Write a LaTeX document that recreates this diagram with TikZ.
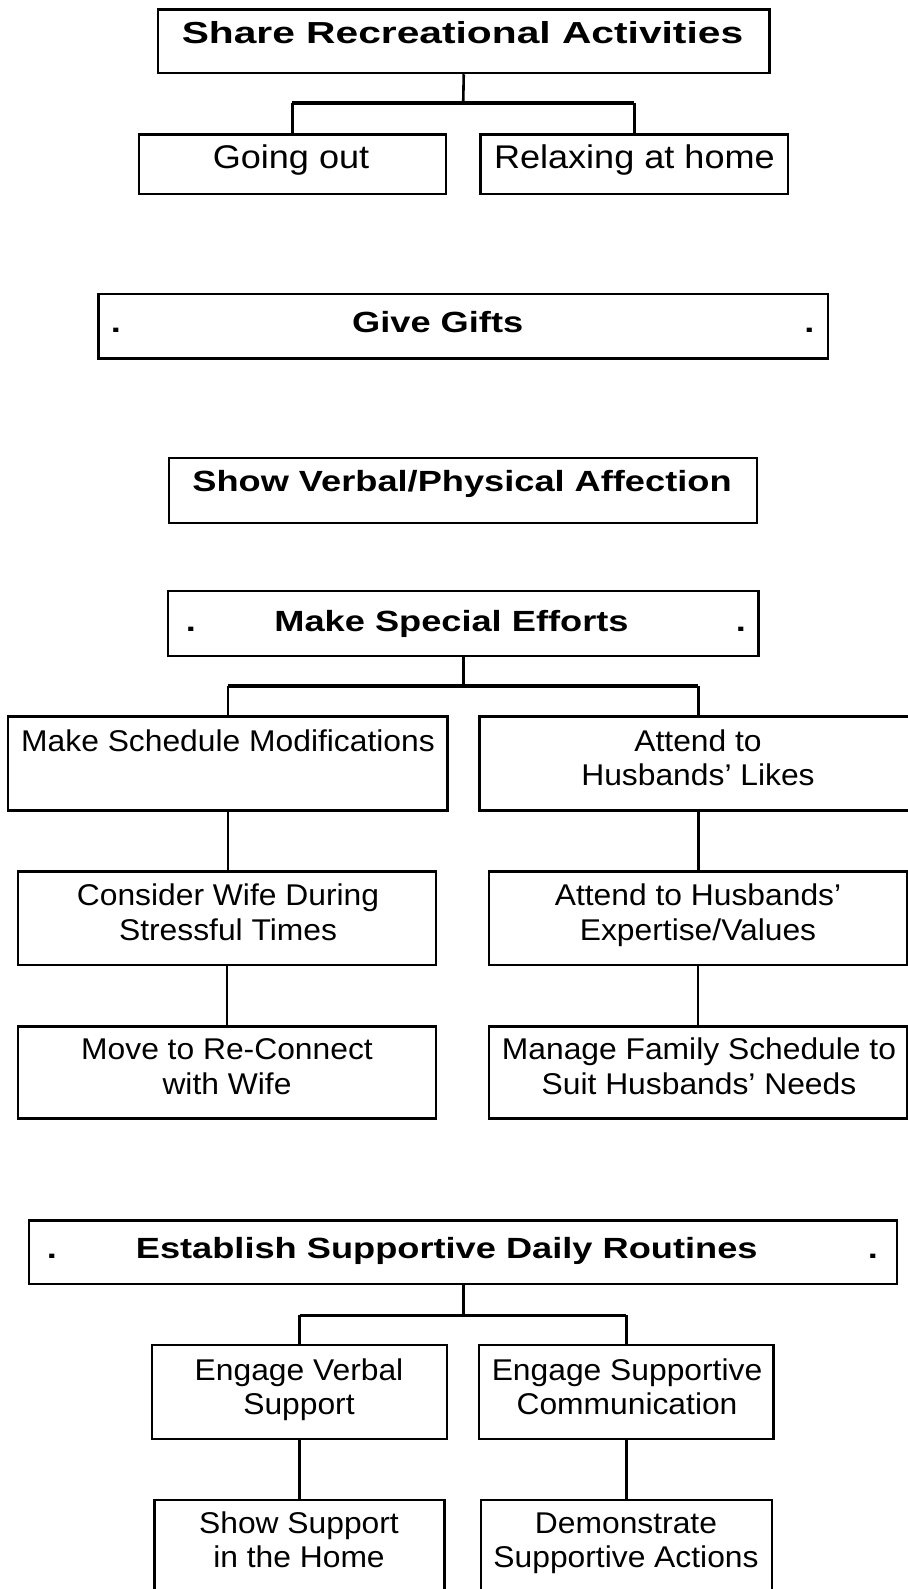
\documentclass[tikz,border=0pt]{standalone}
\usepackage{fontspec}
\setmainfont{Liberation Sans}[FakeStretch=1.1]
\newfontfamily\lowf{Liberation Sans}[FakeStretch=1.06]
\newfontfamily\hdf{Liberation Sans}[FakeStretch=1.24]
\newfontfamily\shf{Liberation Sans}[FakeStretch=1.34]
\usetikzlibrary{fit}
\newcommand\twoline[2]{\begin{tabular}[t]{@{}c@{}}#1\\#2\end{tabular}}
\begin{document}
\begin{tikzpicture}[x=0.5pt,y=-0.5pt,
  box/.style={draw=black, line width=1.25pt, inner sep=0pt},
  head/.style={font=\hdf\bfseries\fontsize{14.6}{17}\selectfont, anchor=base, inner sep=0pt},
  sharehead/.style={font=\shf\bfseries\fontsize{15.2}{17}\selectfont, anchor=base, inner sep=0pt},
  sub/.style={font=\fontsize{16.4}{20}\selectfont, anchor=base, inner sep=0pt},
  lbl/.style={font=\lowf\fontsize{15}{17.2}\selectfont, anchor=base, inner sep=0pt},
  link/.style={line width=1.3pt},
  bar/.style={line width=1.8pt}]
\useasboundingbox (0,0) rectangle (908,1589);

% ---------- Share Recreational Activities ----------
\node[box, fit={(158,9.5) (769.5,73)}] (share) {};
\node[sharehead] (shareT) at (462.5,44) {Share Recreational Activities};
\node[box, fit={(139,134.3) (445.9,194)}] (going) {};
\node[sub] (goingT) at (291,168.5) {Going out};
\node[box, fit={(480.6,134.3) (788,194)}] (relax) {};
\node[sub] (relaxT) at (634.4,168.5) {Relaxing at home};
\coordinate (j1) at (463.2,103.3);
\draw[link] (share.south) -- (j1);
\draw[bar] (going.north |- j1) -- (relax.north |- j1);
\draw[link] (going.north |- j1) -- (going.north);
\draw[link] (relax.north |- j1) -- (relax.north);

% ---------- Give Gifts ----------
\node[box, fit={(98.4,294) (828,358.7)}] (gifts) {};
\node[head] (giftsT) at (437.7,332) {Give Gifts};
\node[head] (giftsL) at (115.8,332) {.};
\node[head] (giftsR) at (809.5,332) {.};

% ---------- Show Verbal/Physical Affection ----------
\node[box, fit={(169.2,458) (757,523)}] (affect) {};
\node[head] (affectT) at (462,491.7) {Show Verbal/Physical Affection};

% ---------- Make Special Efforts ----------
\node[box, fit={(168,591) (758.5,656)}] (special) {};
\node[head] (specialT) at (451.5,631) {Make Special Efforts};
\node[head] (specialL) at (191,631) {.};
\node[head] (specialR) at (741,631) {.};

\node[box, fit={(8,716.7) (447.6,810.7)}] (sched) {};
\node[lbl] (schedT) at (228,751) {Make Schedule Modifications};
\node[box, fit={(479.4,716.7) (917.2,810.7)}] (likes) {};
\node[lbl] (likesT) at (698,751) {\twoline{Attend to}{Husbands’ Likes}};

\node[box, fit={(18,871.7) (436,965)}] (stress) {};
\node[lbl] (stressT) at (228,905.8) {\twoline{Consider Wife During}{Stressful Times}};
\node[box, fit={(489,871.7) (907,965)}] (expert) {};
\node[lbl] (expertT) at (698,905.8) {\twoline{Attend to Husbands’}{Expertise/Values}};

\node[box, fit={(18,1026.3) (436,1118.5)}] (reconn) {};
\node[lbl] (reconnT) at (227,1059.7) {\twoline{Move to Re-Connect}{with Wife}};
\node[box, fit={(489,1026.3) (907,1118.5)}] (family) {};
\node[lbl] (familyT) at (699,1059.7) {\twoline{Manage Family Schedule to}{Suit Husbands’ Needs}};

\coordinate (j2) at (463.2,686);
\draw[link] (special.south -| j2) -- (j2);
\draw[bar] (sched.north |- j2) -- (likes.north |- j2);
\draw[link] (sched.north |- j2) -- (sched.north);
\draw[link] (likes.north |- j2) -- (likes.north);
\draw[link] (sched.south) -- (stress.north -| sched.south);
\draw[link] (likes.south) -- (expert.north -| likes.south);
\draw[link] (stress.south) -- (reconn.north);
\draw[link] (expert.south) -- (family.north);

% ---------- Establish Supportive Daily Routines ----------
\node[box, fit={(29,1220.7) (897,1284)}] (routine) {};
\node[head] (routineT) at (446.7,1258.3) {Establish Supportive Daily Routines};
\node[head] (routineL) at (52,1258.3) {.};
\node[head] (routineR) at (873,1258.3) {.};

\node[box, fit={(152,1345) (447,1439)}] (verbal) {};
\node[lbl] (verbalT) at (299,1380) {\twoline{Engage Verbal}{Support}};
\node[box, fit={(479,1345) (773.6,1439)}] (comm) {};
\node[lbl] (commT) at (627,1380) {\twoline{Engage Supportive}{Communication}};

\node[box, fit={(154.6,1500) (444.7,1620)}] (home) {};
\node[lbl] (homeT) at (299,1533.3) {\twoline{Show Support}{in the Home}};
\node[box, fit={(481,1500) (771.8,1620)}] (actions) {};
\node[lbl] (actionsT) at (626,1533.3) {\twoline{Demonstrate}{Supportive Actions}};

\coordinate (j3) at (463.2,1315.3);
\draw[link] (routine.south -| j3) -- (j3);
\draw[bar] (verbal.north |- j3) -- (comm.north |- j3);
\draw[link] (verbal.north |- j3) -- (verbal.north);
\draw[link] (comm.north |- j3) -- (comm.north);
\draw[link] (verbal.south) -- (home.north -| verbal.south);
\draw[link] (comm.south) -- (actions.north -| comm.south);
\end{tikzpicture}
\end{document}
